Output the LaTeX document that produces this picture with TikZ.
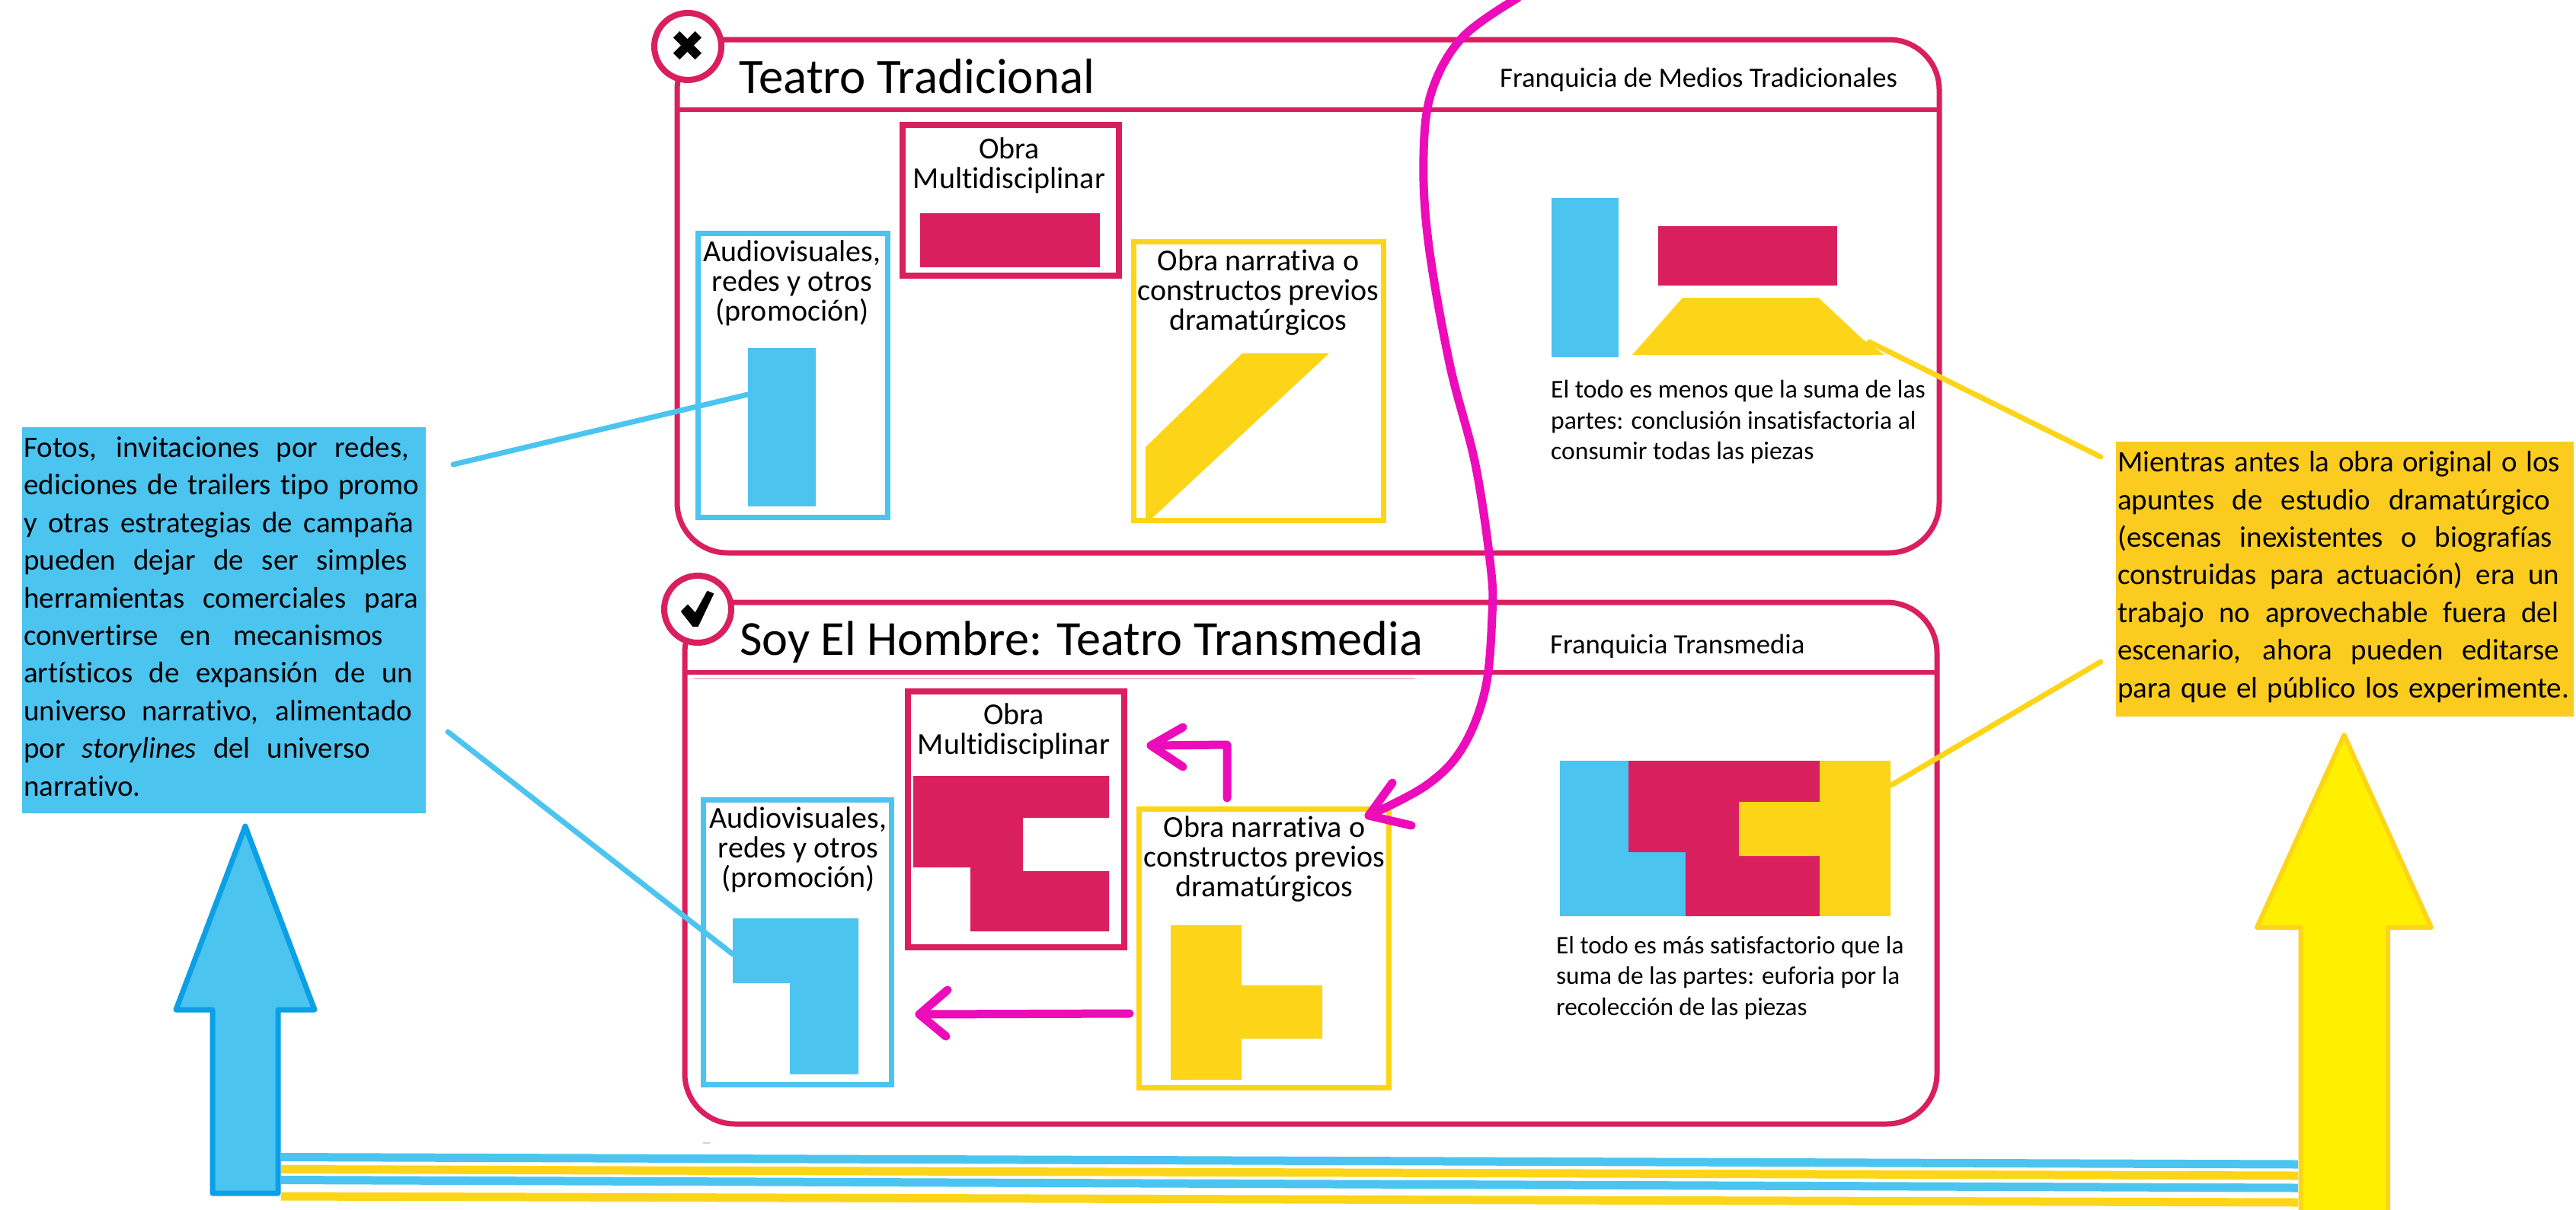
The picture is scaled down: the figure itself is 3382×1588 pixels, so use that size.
\documentclass[tikz,border=0pt]{standalone}
\usepackage{fontspec}
\setmainfont[Ligatures=CommonOff]{Carlito}
\newfontfamily\symfont{DejaVu Sans}
\definecolor{cmag}{HTML}{DA1F5E}
\definecolor{cblue}{HTML}{4CC4F0}
\definecolor{cblued}{HTML}{0BA0E6}
\definecolor{cyel}{HTML}{FDD518}
\definecolor{cyelb}{HTML}{FFF000}
\definecolor{cbox}{HTML}{FCCB20}
\definecolor{cpink}{HTML}{EC0CB9}
\definecolor{cpale}{HTML}{EFC2D2}
\newcommand{\jl}[2]{\makebox[#1pt][s]{#2}}
\tikzset{
  x=1pt,y=-1pt,
  panel/.style={draw=cmag,line width=7pt,rounded corners=66pt,anchor=north west,inner sep=0pt,outer sep=0pt},
  hdr/.style={draw=cmag,line width=6pt},
  badge/.style={circle,draw=cmag,fill=white,line width=8pt,minimum size=88pt,inner sep=0pt,outer sep=0pt},
  frameb/.style={draw=cblue,line width=7pt,anchor=north west,inner sep=0pt,outer sep=0pt},
  framem/.style={draw=cmag,line width=8pt,anchor=north west,inner sep=0pt,outer sep=0pt},
  framey/.style={draw=cyel,line width=7pt,anchor=north west,inner sep=0pt,outer sep=0pt},
  titlea/.style={anchor=base west,inner sep=0pt,font=\fontsize{65}{72}\selectfont},
  titleb/.style={anchor=base west,inner sep=0pt,font=\fontsize{64.3}{72}\selectfont},
  franq/.style={anchor=base west,inner sep=0pt,font=\fontsize{36.7}{42}\selectfont},
  lab/.style={anchor=base,inner sep=0pt,align=center,font=\fontsize{40}{39}\selectfont},
  note/.style={anchor=base west,inner sep=0pt,align=left,font=\fontsize{33.6}{40.3}\selectfont},
  noteb/.style={anchor=base west,inner sep=0pt,align=left,font=\fontsize{33.2}{40.3}\selectfont},
  callout/.style={anchor=base west,inner sep=0pt,align=left,font=\fontsize{39}{49.4}\selectfont},
  pinkline/.style={draw=cpink,line width=11pt,line cap=round,line join=round},
  leadb/.style={draw=cblue,line width=7pt,line cap=round},
  leady/.style={draw=cyel,line width=7pt,line cap=round},
  stripeb/.style={draw=cblue,line width=11pt},
  stripey/.style={draw=cyel,line width=11pt},
}
\begin{document}
\begin{tikzpicture}
\useasboundingbox (0,0) rectangle (3382,1588);
\fill[white] (0,0) rectangle (3382,1588);

% bottom stripes
\coordinate (s1a) at (369,1519.5); \coordinate (s1b) at (3017,1529);
\coordinate (s2a) at (369,1535.5); \coordinate (s2b) at (3017,1544);
\coordinate (s3a) at (369,1549.5); \coordinate (s3b) at (3017,1560);
\coordinate (s4a) at (369,1571);   \coordinate (s4b) at (3017,1579);
\draw[stripeb] (s1a) -- (s1b);
\draw[stripey] (s2a) -- (s2b);
\draw[stripeb] (s3a) -- (s3b);
\draw[stripey] (s4a) -- (s4b);

% panels
\node[panel,minimum width=1657pt,minimum height=674pt] (p1) at (889,52) {};
\draw[hdr] (889,144) -- (2543,144);
\node[panel,minimum width=1644pt,minimum height=685pt] (p2) at (899,791) {};
\draw[hdr] (899,883) -- (2540,883);
\draw[cpale,line width=2pt] (911,891) -- (1858,891);
\draw[cpale,line width=2pt] (923,1501) -- (932,1501);

% badges
\node[badge] (b1) at (903,61) {\symfont\fontsize{56}{56}\selectfont ✖};
\node[badge] (b2) at (916,800) {};
\filldraw[black,line width=2pt,line join=round] (895,803) -- (903,795) -- (913,806) -- (929,777) -- (936,780) -- (916,822) -- (910,822) -- cycle;

% titles
\node[titlea] (t1) at (970,122) {Teatro Tradicional};
\node[titleb] (t2) at (971,860) {Soy El Hombre: Teatro Transmedia};
\node[franq] (f1) at (1969,114) {Franquicia de Medios Tradicionales};
\node[franq] (f2) at (2035,858) {Franquicia Transmedia};

% panel 1 frames
\node[frameb,minimum width=249pt,minimum height=373pt] (fb1) at (916,306) {};
\node[framem,minimum width=284pt,minimum height=198pt] (fm1) at (1185,164) {};
\node[framey,minimum width=328pt,minimum height=366.5pt] (fy1) at (1488.5,317) {};
\fill[cblue] (982,457) rectangle (1071,665);
\fill[cmag] (1208,280) rectangle (1444,351);
\fill[cyel] (1504,587) -- (1631,464) -- (1745,464) -- (1512,681) -- (1504,681) -- cycle;
\node[lab] (l1) at (1040,421) {Audiovisuales,\\redes y otros\\(promoción)};
\node[lab] (l2) at (1325,247) {Obra\\Multidisciplinar};
\node[lab] (l3) at (1652,433) {Obra narrativa o\\constructos previos\\dramatúrgicos};

% panel 2 frames
\node[frameb,minimum width=247pt,minimum height=374pt] (fb2) at (923.5,1050) {};
\node[framem,minimum width=284pt,minimum height=336pt] (fm2) at (1192,908) {};
\node[framey,minimum width=328pt,minimum height=366pt] (fy2) at (1495,1062) {};
\fill[cblue] (962,1206) -- (1127,1206) -- (1127,1410.5) -- (1037,1410.5) -- (1037,1291) -- (962,1291) -- cycle;
\fill[cmag] (1199,1019) -- (1456,1019) -- (1456,1074) -- (1343,1074) -- (1343,1144) -- (1456,1144) -- (1456,1223) -- (1274,1223) -- (1274,1139) -- (1199,1139) -- cycle;
\fill[cyel] (1537,1215) -- (1630,1215) -- (1630,1294) -- (1736,1294) -- (1736,1364) -- (1630,1364) -- (1630,1418) -- (1537,1418) -- cycle;
\node[lab] (l4) at (1048,1165) {Audiovisuales,\\redes y otros\\(promoción)};
\node[lab] (l5) at (1331,990) {Obra\\Multidisciplinar};
\node[lab] (l6) at (1660,1177) {Obra narrativa o\\constructos previos\\dramatúrgicos};

% right-hand pictures
\fill[cblue] (2037,260) rectangle (2125,469);
\fill[cmag] (2177,297) rectangle (2412,375);
\fill[cyel] (2143,466) -- (2209,391) -- (2387.5,391) -- (2445,445) -- (2474,466) -- cycle;
\node[note] (n1) at (2036,603.5) {El todo es menos que la suma de las\\partes: conclusión insatisfactoria al\\consumir todas las piezas};
\fill[cblue] (2048,999) -- (2138,999) -- (2138,1119) -- (2213,1119) -- (2213,1203) -- (2048,1203) -- cycle;
\fill[cmag] (2138,999) -- (2389,999) -- (2389,1053) -- (2283,1053) -- (2283,1124) -- (2389,1124) -- (2389,1203) -- (2213,1203) -- (2213,1119) -- (2138,1119) -- cycle;
\fill[cyel] (2389,999) -- (2482,999) -- (2482,1203) -- (2389,1203) -- (2389,1124) -- (2283,1124) -- (2283,1053) -- (2389,1053) -- cycle;
\node[noteb] (n2) at (2043,1333) {El todo es más satisfactorio que la\\suma de las partes: euforia por la\\recolección de las piezas};

% callouts
\fill[cblue] (29,561) rectangle (559,1068);
\node[callout] (cb) at (31,1045) {\jl{506}{Fotos, invitaciones por redes,}\\\jl{519}{ediciones de trailers tipo promo}\\\jl{512}{y otras estrategias de campaña}\\\jl{504}{pueden dejar de ser simples}\\\jl{518}{herramientas comerciales para}\\\jl{472}{convertirse en mecanismos}\\\jl{511}{artísticos de expansión de un}\\\jl{510}{universo narrativo, alimentado}\\\jl{455}{por \textit{storylines} del universo}\\narrativo.};
\fill[cbox] (2778,580) rectangle (3379,941);
\node[callout] (cy) at (2780,916) {\jl{581}{Mientras antes la obra original o los}\\\jl{568}{apuntes de estudio dramatúrgico}\\\jl{571}{(escenas inexistentes o biografías}\\\jl{580}{construidas para actuación) era un}\\\jl{579}{trabajo no aprovechable fuera del}\\\jl{580}{escenario, ahora pueden editarse}\\\jl{593}{para que el público los experimente.}};

% big arrows
\draw[fill=cblue,draw=cblued,line width=7pt,line join=round]
  (322,1085) -- (231,1326) -- (279,1326) -- (279,1567) -- (365,1567) -- (365,1326) -- (413,1326) -- cycle;
\draw[fill=cyelb,draw=cyel,line width=6pt,line join=round]
  (3077.5,965) -- (2963,1218) -- (3020.5,1218) -- (3020.5,1592) -- (3135,1592) -- (3135,1218) -- (3192,1218) -- cycle;

% leader lines
\coordinate (la1) at (595,610);  \coordinate (la2) at (982,518);
\coordinate (lb1) at (588,961);  \coordinate (lb2) at (962,1253);
\coordinate (lc1) at (2454,449); \coordinate (lc2) at (2758,600);
\coordinate (ld1) at (2483,1031);\coordinate (ld2) at (2758,869);
\draw[leadb] (la1) -- (la2);
\draw[leadb] (lb1) -- (lb2);
\draw[leady] (lc1) -- (lc2);
\draw[leady] (ld1) -- (ld2);

% pink arrows
\coordinate (a1s) at (1483,1331); \coordinate (a1t) at (1207,1332);
\coordinate (a1u) at (1244,1300); \coordinate (a1d) at (1242,1361);
\draw[pinkline] (a1s) -- (a1t);
\draw[pinkline] (a1u) -- (a1t) -- (a1d);
\coordinate (a2s) at (1611,1048); \coordinate (a2c) at (1611,978); \coordinate (a2t) at (1511,979);
\coordinate (a2u) at (1553,955);  \coordinate (a2d) at (1553,1007);
\draw[pinkline] (a2s) -- (a2c) -- (a2t);
\draw[pinkline] (a2u) -- (a2t) -- (a2d);
\coordinate (a3t) at (1797,1071); \coordinate (a3u) at (1828,1028); \coordinate (a3d) at (1853,1084);
\draw[pinkline] plot[smooth,tension=0.6] coordinates {(1993,-3) (1920,49) (1880,119) (1869,203) (1875,316) (1903,477) (1937,610) (1957,744) (1959,807) (1950,905) (1920,982) (1873,1031) (1797,1071)};
\draw[pinkline] (a3u) -- (a3t) -- (a3d);
\end{tikzpicture}
\end{document}
